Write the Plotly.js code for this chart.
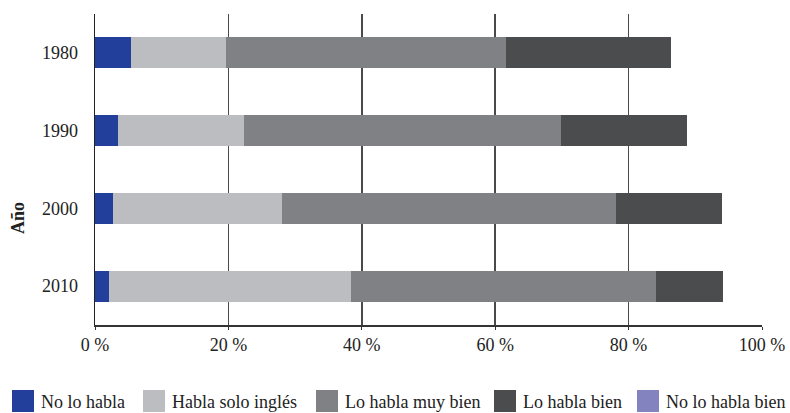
<!DOCTYPE html>
<html><head><meta charset="utf-8">
<script src="https://cdn.plot.ly/plotly-3.0.1.min.js"></script>
<style>html,body{margin:0;padding:0;background:#fff}#chart{width:790px;height:413px}</style>
</head><body><div id="chart"></div>
<script>
const years = ['1980','1990','2000','2010'];
const seriesNames = ['No lo habla','Habla solo inglés','Lo habla muy bien','Lo habla bien','No lo habla bien'];
const noLoHabla      = [5.4, 3.4, 2.7, 2.1];
const hablaSoloIngles= [14.2, 18.9, 25.3, 36.3];
const loHablaMuyBien = [42.0, 47.6, 50.1, 45.7];
const loHablaBien    = [24.7, 18.9, 15.9, 10.1];
const noLoHablaBien  = [13.7, 11.2, 6.0, 5.8];
const xTicks = [0,20,40,60,80,100];

const seriesValues = [noLoHabla, hablaSoloIngles, loHablaMuyBien, loHablaBien, noLoHablaBien];
const barColors = ['#22409b','#bcbdc0','#808184','#4b4c4e','#ffffff'];
const legendColors = ['#22409b','#bcbdc0','#808184','#4b4c4e','#8384bf'];

const traces = seriesValues.map((vals,i)=>({
  type:'bar', orientation:'h', name:seriesNames[i], y:years, x:vals,
  marker:{color:barColors[i]}, showlegend:false, hoverinfo:'x+name'
}));

const font = 'Liberation Serif, Times New Roman, serif';
// manual legend
const L = 95, W = 667, T = 14, H = 311;
const px = v => (v - L)/W;
const py = v => (T + H - v)/H;
const legX = [12, 143, 316, 494, 637];
const shapes = [], annotations = [];
legX.forEach((x,i)=>{
  shapes.push({type:'rect', xref:'paper', yref:'paper', x0:px(x), x1:px(x+22), y0:py(412), y1:py(390),
    fillcolor:legendColors[i], line:{width:0}});
  annotations.push({xref:'paper', yref:'paper', x:px(x+27), y:py(402), xanchor:'left', yanchor:'middle',
    text:seriesNames[i], showarrow:false, font:{family:font, size:18, color:'#222'}});
});
annotations.push({xref:'paper', yref:'paper', x:px(18), y:py(218), xanchor:'center', yanchor:'middle',
  text:'<b>Año</b>', textangle:-90, showarrow:false, font:{family:font, size:18, color:'#222'}});

const layout = {
  width:790, height:413,
  margin:{l:L, r:790-L-W, t:T, b:413-T-H, pad:0},
  barmode:'stack', bargap:0.6,
  paper_bgcolor:'#fff', plot_bgcolor:'#fff',
  font:{family:font, size:18, color:'#222'},
  xaxis:{range:[0,100], tickvals:xTicks, ticktext:xTicks.map(v=>v+' %'),
    showgrid:true, gridcolor:'#4a4a4a', gridwidth:1.6, zeroline:false,
    showline:true, linecolor:'#333', linewidth:1.5, ticks:'outside', ticklen:3, tickcolor:'#333',
    tickfont:{family:font, size:18, color:'#222'}, fixedrange:true},
  yaxis:{categoryorder:'array', categoryarray:years, autorange:'reversed',
    showline:true, linecolor:'#222', linewidth:1.5, ticks:'', showgrid:false, zeroline:false,
    ticklabelstandoff:12, tickfont:{family:font, size:18, color:'#222'}},
  shapes:shapes, annotations:annotations, showlegend:false
};
Plotly.newPlot('chart', traces, layout, {displayModeBar:false, staticPlot:true});
</script></body></html>
